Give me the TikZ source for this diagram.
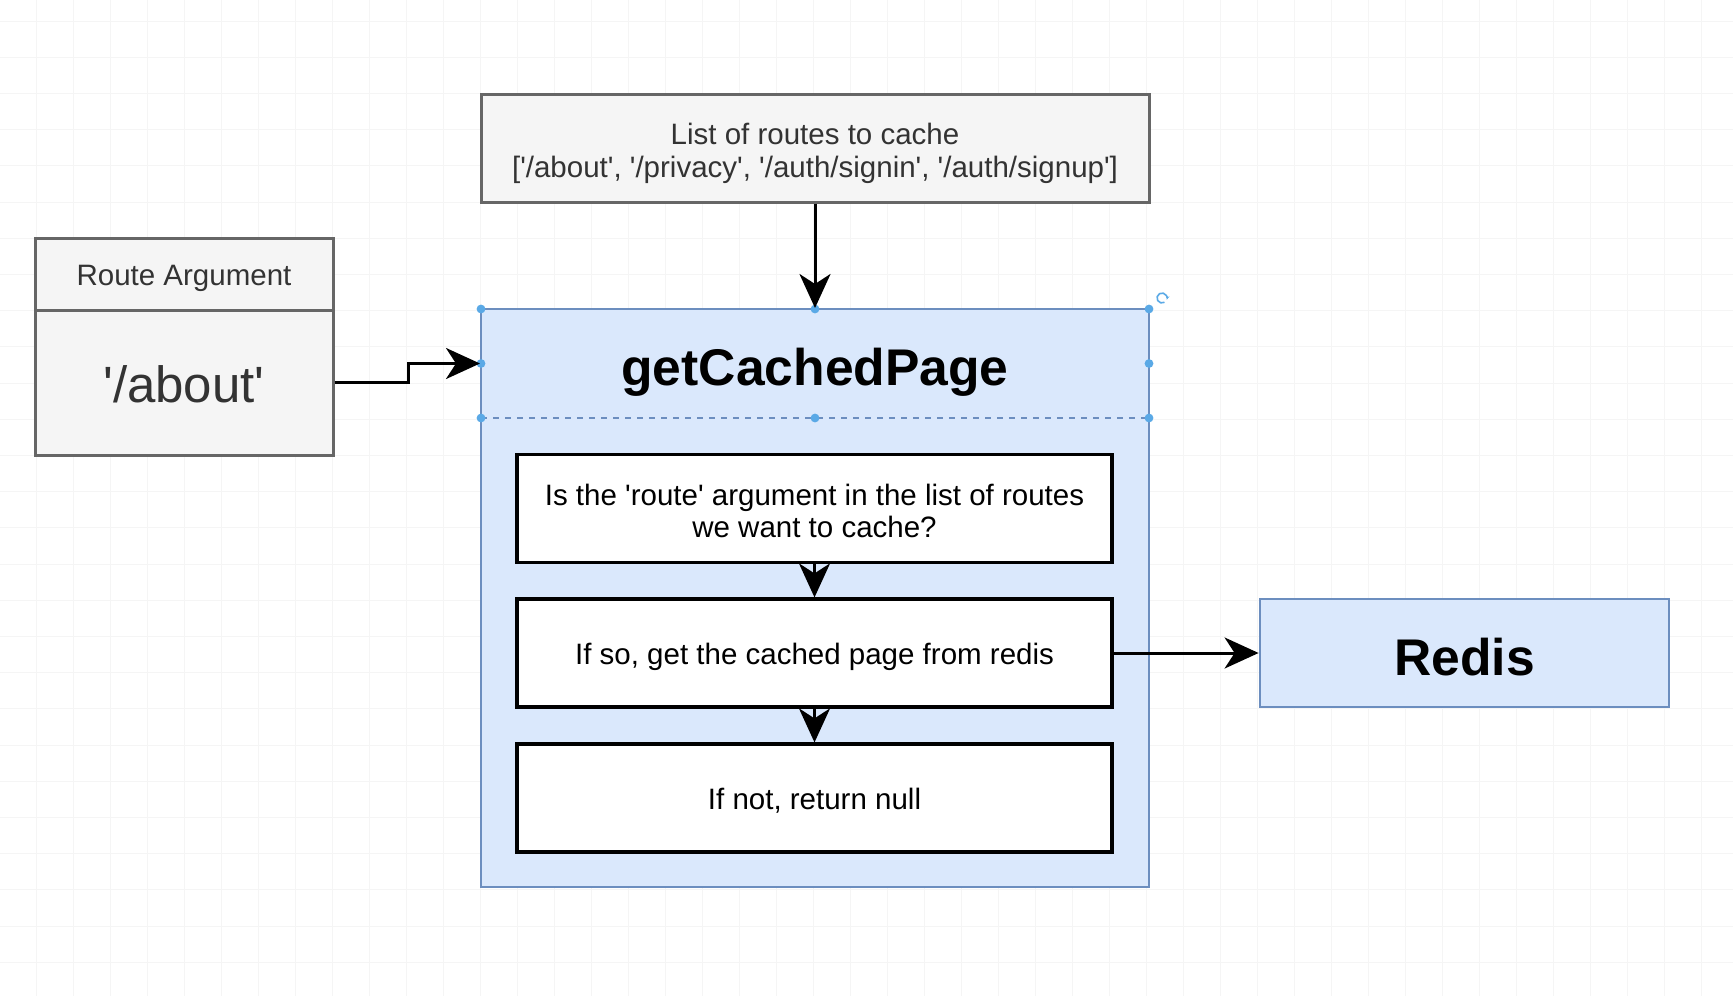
\documentclass[tikz,border=0pt]{standalone}
\usepackage{fontspec}
\setmainfont{Liberation Sans}[Ligatures=TeXOff]
\usetikzlibrary{arrows.meta}
\definecolor{greyfill}{HTML}{F5F5F5}
\definecolor{greyline}{HTML}{666666}
\definecolor{bluefill}{HTML}{DAE8FC}
\definecolor{blueline}{HTML}{6C8EBF}
\definecolor{handle}{HTML}{5AA9E6}
\definecolor{gridcol}{HTML}{F5F5F5}
\definecolor{textgrey}{HTML}{333333}
\tikzset{
  greybox/.style={draw=greyline, fill=greyfill, line width=1.5pt, inner sep=0pt, text=textgrey},
  bluebox/.style={draw=blueline, fill=bluefill, line width=1.4pt, inner sep=0pt},
  stepbox/.style={draw=black, fill=white, line width=1.6pt, inner sep=0pt, align=center, minimum width=297.5pt, minimum height=54pt},
  normtext/.style={font=\fontsize{14.75}{16.3}\selectfont, text height=11.5pt, text depth=0pt},
  twolines/.style={text height=29.3pt},
  bigtext/.style={font=\fontsize{25.5}{28}\selectfont, text height=19.5pt, text depth=0pt},
  boldtext/.style={font=\bfseries\fontsize{25.8}{28}\selectfont, text height=21.5pt, text depth=0pt},
  flow/.style={line width=1.5pt, -{Stealth[length=17pt, width=15.5pt, inset=5pt]}},
}
\begin{document}
\begin{tikzpicture}[x=0.5pt, y=-0.5pt]
\useasboundingbox (0,0) rectangle (1733,996);
\fill[white] (0,0) rectangle (1733,996);
\foreach \x in {36,73,...,1733} % edit here for the grid
\draw[gridcol, line width=0.5pt] (\x,0) -- (\x,996);
\foreach \y in {21,57.2,...,996}
\draw[gridcol, line width=0.5pt] (0,\y) -- (1733,\y);
% list of routes
\node[greybox, normtext, twolines, align=center, minimum width=334pt, minimum height=54pt] (routes) at (815,148)
  {List of routes to cache\\{}{[}'/about', '/privacy', '/auth/signin', '/auth/signup'{]}};
% route argument
\node[greybox, normtext, minimum width=149pt, minimum height=36pt] (arghead) at (184,274) {Route Argument};
\node[greybox, bigtext, minimum width=149pt, minimum height=72.5pt] (argval) at (184,382.5) {'/about'};
% getCachedPage container
\node[bluebox, minimum width=334pt, minimum height=289pt] (func) at (815,598) {};
\node[draw=blueline, dashed, line width=1pt, inner sep=0pt, minimum width=334pt, minimum height=54.5pt, boldtext] (funchead) at (815,363.5) {getCachedPage};
\foreach \x/\y in {481/309, 815/309, 1149/309, 481/363.5, 1149/363.5, 481/418, 815/418, 1149/418} % edit here for the handles
\fill[handle] (\x,\y) circle (2.2pt);
\draw[handle, line width=0.8pt, -{Stealth[length=2pt]}] (1162,298) ++(60:5) arc (60:380:5);
% steps
\node[stepbox, normtext, twolines] (check) at (814.5,508.5) {Is the 'route' argument in the list of routes\\we want to cache?};
\node[stepbox, normtext] (fetch) at (814.5,653) {If so, get the cached page from redis};
\node[stepbox, normtext] (none) at (814.5,798) {If not, return null};
% redis
\node[bluebox, boldtext, text height=22pt, minimum width=204.5pt, minimum height=54pt] (redis) at (1464.5,653) {Redis};
% connectors
\draw[flow] (routes.south) -- (funchead.north);
\draw[flow] (argval.east) -- ++(74,0) |- (funchead.west);
\draw[flow] (check.south) -- (fetch.north);
\draw[flow] (fetch.south) -- (none.north);
\draw[flow] (fetch.east) -- (redis.west);
\end{tikzpicture}
\end{document}
